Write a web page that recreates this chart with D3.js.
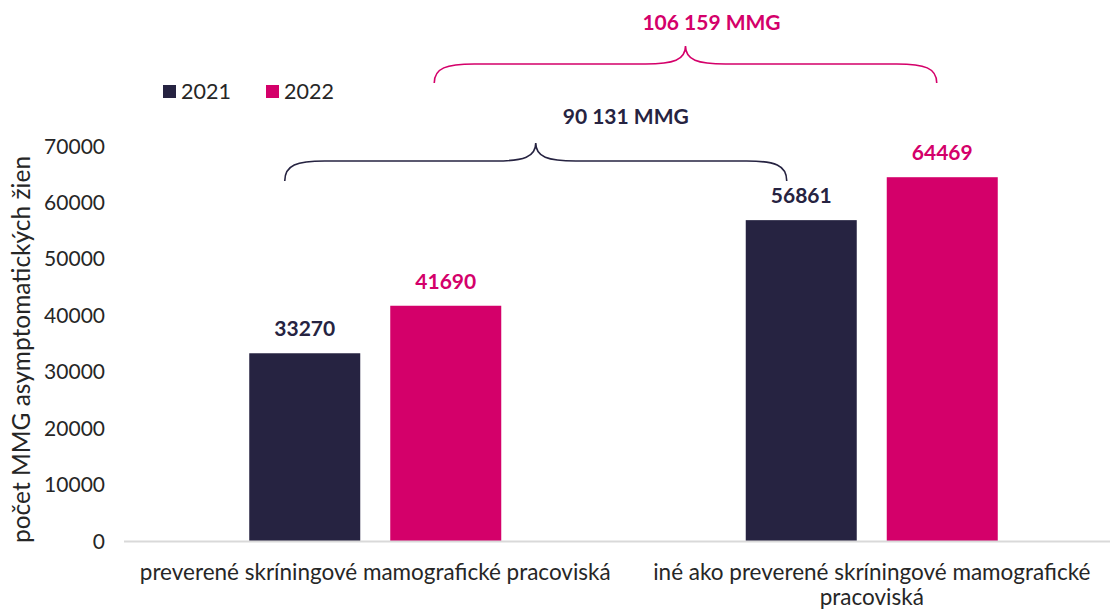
<!DOCTYPE html>
<html>
<head>
<meta charset="utf-8">
<script src="https://cdn.jsdelivr.net/npm/d3@7"></script>
<style>
  body { margin: 0; background: #fff; }
  svg { font-family: Lato, "Open Sans", sans-serif; }
</style>
</head>
<body>
<div class="chart"></div>
<script>
var svgWidth = 1110;
var svgHeight = 610;

// data
var categories = ["preverené skríningové mamografické pracoviská", "iné ako preverené skríningové mamografické pracoviská"];
var years = ["2021", "2022"];
var values2021 = [33270, 56861];
var values2022 = [41690, 64469];
var yTicks = [0, 10000, 20000, 30000, 40000, 50000, 60000, 70000];
var totalLabels = ["90 131 MMG", "106 159 MMG"];
var yTitle = "počet MMG asymptomatických žien";

var colors = { "2021": "#262341", "2022": "#D4006A" };

var svg = d3.select(".chart")
  .append("svg")
  .attr("width", svgWidth)
  .attr("height", svgHeight);

var x0 = d3.scaleBand()
  .domain(categories)
  .range([127, 1120])
  .paddingInner(0)
  .paddingOuter(0);

// bars inside a group: 111 wide, 30 apart
var x1 = d3.scaleBand()
  .domain(years)
  .range([0, 252])
  .paddingInner(30 / 141)
  .paddingOuter(0);

var y = d3.scaleLinear()
  .domain([0, 70000])
  .range([541, 146]);

function groupX(cat) { return x0(cat) + x0.bandwidth() / 2 - 126; }

var rows = categories.map(function(c, i) {
  return { cat: c, vals: [{ year: "2021", v: values2021[i] }, { year: "2022", v: values2022[i] }] };
});

// y tick labels
svg.append("g").selectAll("text")
  .data(yTicks)
  .enter().append("text")
  .attr("x", 105)
  .attr("y", function(d) { return y(d); })
  .attr("dy", "0.36em")
  .attr("text-anchor", "end")
  .attr("font-size", 21)
  .attr("fill", "#262626")
  .text(function(d) { return d; });

// y title
svg.append("text")
  .attr("transform", "translate(30," + (y(35000) + 6) + ") rotate(-90)")
  .attr("text-anchor", "middle")
  .attr("font-size", 24.5)
  .attr("fill", "#262626")
  .text(yTitle);

// bars
var groups = svg.append("g").selectAll("g")
  .data(rows)
  .enter().append("g")
  .attr("transform", function(d) { return "translate(" + groupX(d.cat) + ",0)"; });

groups.selectAll("rect")
  .data(function(d) { return d.vals; })
  .enter().append("rect")
  .attr("x", function(d) { return x1(d.year); })
  .attr("y", function(d) { return y(d.v); })
  .attr("width", x1.bandwidth())
  .attr("height", function(d) { return y(0) - y(d.v); })
  .attr("fill", function(d) { return colors[d.year]; });

groups.selectAll("text")
  .data(function(d) { return d.vals; })
  .enter().append("text")
  .attr("x", function(d) { return x1(d.year) + x1.bandwidth() / 2; })
  .attr("y", function(d) { return y(d.v) - 17; })
  .attr("text-anchor", "middle")
  .attr("font-size", 21)
  .attr("font-weight", "bold")
  .attr("fill", function(d) { return colors[d.year]; })
  .text(function(d) { return d.v; });

// x axis line
svg.append("line")
  .attr("x1", 124).attr("x2", 1110)
  .attr("y1", y(0) + 0.5).attr("y2", y(0) + 0.5)
  .attr("stroke", "#d9d9d9")
  .attr("stroke-width", 2);

// category labels (wrapped)
var catLines = [[categories[0]], ["iné ako preverené skríningové mamografické", "pracoviská"]];
svg.append("g").selectAll("text")
  .data(categories)
  .enter().append("text")
  .attr("text-anchor", "middle")
  .attr("font-size", 22.5)
  .attr("fill", "#262626")
  .each(function(d, i) {
    var t = d3.select(this);
    catLines[i].forEach(function(line, j) {
      t.append("tspan")
        .attr("x", x0(d) + x0.bandwidth() / 2)
        .attr("y", 580 + j * 25)
        .text(line);
    });
  });

// legend
var legend = svg.append("g").selectAll("g")
  .data(years)
  .enter().append("g")
  .attr("transform", function(d, i) { return "translate(" + (163 + i * 103) + ",0)"; });
legend.append("rect")
  .attr("x", 0).attr("y", 85)
  .attr("width", 13).attr("height", 13)
  .attr("fill", function(d) { return colors[d]; });
legend.append("text")
  .attr("x", 18).attr("y", 99)
  .attr("font-size", 21.5)
  .attr("fill", "#262626")
  .text(function(d) { return d; });

// braces
function bracePath(xa, xb, yEnd, yH, yTip) {
  var mid = (xa + xb) / 2;
  var r = 40;
  return "M" + xa + "," + yEnd +
    " C" + xa + "," + (yH + 4) + " " + (xa + 12) + "," + yH + " " + (xa + r) + "," + yH +
    " L" + (mid - r) + "," + yH +
    " C" + (mid - 12) + "," + yH + " " + mid + "," + (yH - 4) + " " + mid + "," + yTip +
    " C" + mid + "," + (yH - 4) + " " + (mid + 12) + "," + yH + " " + (mid + r) + "," + yH +
    " L" + (xb - r) + "," + yH +
    " C" + (xb - 12) + "," + yH + " " + xb + "," + (yH + 4) + " " + xb + "," + yEnd;
}

var braceSpec = [
  { year: "2021", yEnd: 181, yH: 161, yTip: 143, labelY: 124, offA: -20, offB: -14.5, labelDx: 90 },
  { year: "2022", yEnd: 83, yH: 64, yTip: 46, labelY: 30, offA: -11.5, offB: -5.5, labelDx: 26 }
];

braceSpec.forEach(function(b, i) {
  var ax = groupX(categories[0]) + x1(b.year) + x1.bandwidth() / 2 + b.offA;
  var bx = groupX(categories[1]) + x1(b.year) + x1.bandwidth() / 2 + b.offB;
  svg.append("path")
    .attr("d", bracePath(ax, bx, b.yEnd, b.yH, b.yTip))
    .attr("fill", "none")
    .attr("stroke", colors[b.year])
    .attr("stroke-width", 1.6);
  svg.append("text")
    .attr("x", (ax + bx) / 2 + b.labelDx)
    .attr("y", b.labelY)
    .attr("text-anchor", "middle")
    .attr("font-size", 21)
    .attr("font-weight", "bold")
    .attr("fill", colors[b.year])
    .text(totalLabels[i]);
});
</script>
</body>
</html>
